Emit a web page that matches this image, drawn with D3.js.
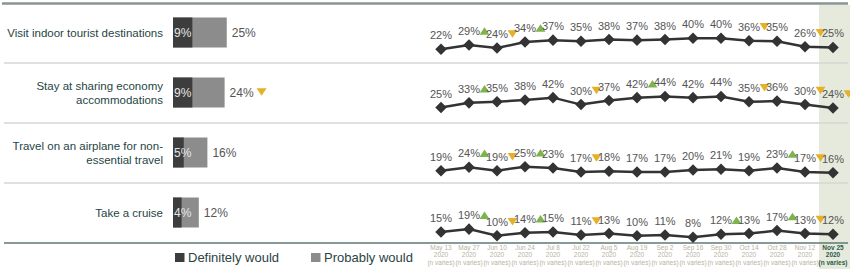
<!DOCTYPE html>
<html><head><meta charset="utf-8">
<script src="https://cdn.jsdelivr.net/npm/d3@7"></script>
<style>
body{margin:0;background:#fff;}
svg{display:block;font-family:"Liberation Sans",Arial,sans-serif;}
</style></head>
<body><svg id="c" width="850" height="269"></svg>
<script>
const categories = [
  ["Visit indoor tourist destinations"],
  ["Stay at sharing economy", "accommodations"],
  ["Travel on an airplane for non-", "essential travel"],
  ["Take a cruise"]
];
const definitely = [9, 9, 5, 4];
const totals = [25, 24, 16, 12];
const totalSig = [0, -1, 0, 0];
const dates = ["May 13","May 27","Jun 10","Jun 24","Jul 8","Jul 22","Aug 5","Aug 19","Sep 2","Sep 16","Sep 30","Oct 14","Oct 28","Nov 12","Nov 25"];
const dateYear = "2020";
const dateNote = "(n varies)";
const series1 = [22,29,24,34,37,35,38,37,38,40,40,36,35,26,25];
const series2 = [25,33,35,38,42,30,37,42,44,42,44,35,36,30,24];
const series3 = [19,24,19,25,23,17,18,17,17,20,21,19,23,17,16];
const series4 = [15,19,10,14,15,11,13,10,11,8,12,13,17,13,12];
const sig1 = [0,1,-1,1,0,0,0,0,0,0,0,-1,0,-1,0];
const sig2 = [0,1,0,0,0,-1,0,1,0,0,0,-1,0,-1,-1];
const sig3 = [0,1,-1,1,0,-1,0,0,0,0,0,0,1,-1,0];
const sig4 = [0,1,-1,1,0,-1,0,0,0,0,1,0,1,-1,0];
const legendLabels = ["Definitely would", "Probably would"];

const series = [series1, series2, series3, series4];
const sigs = [sig1, sig2, sig3, sig4];

const svg = d3.select("#c");
const rowCenter = [33, 93, 153, 213];
const baseY = [62.7, 122, 183.4, 243];
const kY = [0.61, 0.58, 0.67, 0.73];

const DARK = "#3d3d3d", LIGHT = "#8c8c8c", UP = "#7db54a", DOWN = "#e6b12a";

const x = d3.scalePoint().domain(dates).range([441, 833]);
svg.append("rect").attr("x", 819).attr("y", 5).attr("width", 31).attr("height", 264).attr("fill", "#e5eadc");

svg.append("line").attr("x1", 2).attr("x2", 848).attr("y1", 3.5).attr("y2", 3.5).attr("stroke", "#8a9592").attr("stroke-width", 2.5);
[63, 123, 183].forEach(y => svg.append("line").attr("x1", 4).attr("x2", 848).attr("y1", y).attr("y2", y).attr("stroke", "#d6d6d6").attr("stroke-width", 1.5));
svg.append("line").attr("x1", 4).attr("x2", 848).attr("y1", 243).attr("y2", 243).attr("stroke", "#5e7875").attr("stroke-width", 1.5);

categories.forEach((lines, i) => {
  const t = svg.append("text").attr("text-anchor", "end").attr("fill", "#1f4545").attr("font-size", 11.5);
  const n = lines.length;
  lines.forEach((l, j) => {
    t.append("tspan").attr("x", 163).attr("y", rowCenter[i] + 4 + (j - (n - 1) / 2) * 13.5).text(l);
  });
});

function drawTri(cx, cy, dir) {
  const w = 5, h = 7.5;
  const pts = dir > 0
    ? [[cx - w, cy + h / 2], [cx + w, cy + h / 2], [cx, cy - h / 2]]
    : [[cx - w, cy - h / 2], [cx + w, cy - h / 2], [cx, cy + h / 2]];
  svg.append("path").attr("d", "M" + pts.map(p => p.join(",")).join("L") + "Z").attr("fill", dir > 0 ? UP : DOWN);
}

const xb = d3.scaleLinear().domain([0, 100]).range([173, 388]);
const barH = 30;
categories.forEach((c, i) => {
  const y0 = rowCenter[i] - barH / 2 - 0.5;
  svg.append("rect").attr("x", xb(0)).attr("y", y0).attr("width", xb(totals[i]) - xb(0)).attr("height", barH).attr("fill", LIGHT);
  svg.append("rect").attr("x", xb(0)).attr("y", y0).attr("width", xb(definitely[i]) - xb(0)).attr("height", barH).attr("fill", DARK);
  svg.append("text").attr("x", xb(0) + 1).attr("y", rowCenter[i] + 4).attr("fill", "#e6e6e6").attr("font-size", 12).text(definitely[i] + "%");
  const tx = xb(totals[i]) + 5;
  svg.append("text").attr("x", tx).attr("y", rowCenter[i] + 4).attr("fill", "#555").attr("font-size", 12).text(totals[i] + "%");
  if (totalSig[i] !== 0) drawTri(tx + 32, rowCenter[i] - 1, totalSig[i]);
});

series.forEach((vals, i) => {
  const y = d3.scaleLinear().domain([0, 100]).range([baseY[i], baseY[i] - 100 * kY[i]]);
  const line = d3.line().x((d, j) => x(dates[j])).y(d => y(d));
  svg.append("path").datum(vals).attr("d", line).attr("fill", "none").attr("stroke", "#333").attr("stroke-width", 2.5);
  svg.selectAll(null).data(vals).enter().append("path")
    .attr("d", d3.symbol(d3.symbolDiamond2, 85))
    .attr("transform", (d, j) => `translate(${x(dates[j])},${y(d)})`)
    .attr("fill", "#333");
  vals.forEach((v, j) => {
    const ly = y(v) - 10;
    svg.append("text").attr("x", x(dates[j])).attr("y", ly).attr("text-anchor", "middle").attr("fill", "#555").attr("font-size", 11).text(v + "%");
    if (sigs[i][j] !== 0) drawTri(x(dates[j]) + 15.5, ly - 4, sigs[i][j]);
  });
});

dates.forEach((d, j) => {
  const last = j === dates.length - 1;
  const g = svg.append("text").attr("text-anchor", "middle").attr("font-size", 6.5)
    .attr("fill", last ? "#2d5a48" : "#b9b3a3").attr("font-weight", last ? "bold" : "normal");
  [d, dateYear, dateNote].forEach((s, k) => {
    g.append("tspan").attr("x", x(d)).attr("y", 249.5 + k * 7.5).text(s);
  });
});

const legX = [175, 311];
legendLabels.forEach((l, i) => {
  svg.append("rect").attr("x", legX[i]).attr("y", 253).attr("width", 9.5).attr("height", 9).attr("fill", i === 0 ? DARK : LIGHT);
  svg.append("text").attr("x", legX[i] + 13).attr("y", 262).attr("fill", "#2a4343").attr("font-size", 13).text(l);
});
</script></body></html>
